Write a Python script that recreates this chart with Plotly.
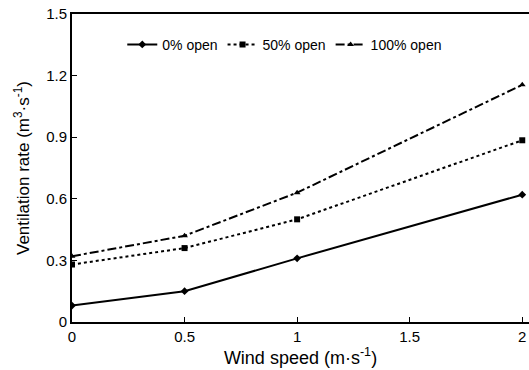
import plotly.graph_objects as go

wind = [0, 0.5, 1, 2]
open0 = [0.08, 0.15, 0.31, 0.62]
open50 = [0.28, 0.36, 0.50, 0.885]
open100 = [0.32, 0.42, 0.63, 1.155]
names = ["0% open", "50% open", "100% open"]

fig = go.Figure()
fig.add_trace(go.Scatter(x=wind, y=open0, name=names[0], mode="lines+markers",
                         line=dict(color="black", width=2, dash="solid"),
                         marker=dict(symbol="diamond", size=6, color="black")))
fig.add_trace(go.Scatter(x=wind, y=open50, name=names[1], mode="lines+markers",
                         line=dict(color="black", width=2, dash="dot"),
                         marker=dict(symbol="square", size=6, color="black")))
fig.add_trace(go.Scatter(x=wind, y=open100, name=names[2], mode="lines+markers",
                         line=dict(color="black", width=2, dash="dashdot"),
                         marker=dict(symbol="triangle-up", size=6, color="black")))

font = "Liberation Sans, Arial, sans-serif"
fig.update_layout(
    width=529, height=370,
    margin=dict(l=72, r=0, t=14, b=48),
    paper_bgcolor="white", plot_bgcolor="white",
    font=dict(family=font, size=15, color="black"),
    showlegend=True,
    legend=dict(orientation="h", x=0.11, y=0.9, xanchor="left", yanchor="middle",
                font=dict(size=14), bgcolor="rgba(0,0,0,0)",
                itemwidth=30, tracegroupgap=0),
    xaxis=dict(range=[0, 2.03], tickvals=[0, 0.5, 1, 1.5, 2],
               ticktext=["0", "0.5", "1", "1.5", "2"],
               showgrid=False, zeroline=False, showline=True, linecolor="black",
               linewidth=2, mirror=True, ticks="inside", ticklen=5, tickcolor="black",
               title=dict(text="Wind speed (m·s<sup>-1</sup>)", font=dict(size=18), standoff=2)),
    yaxis=dict(range=[0, 1.5], tickvals=[0, 0.3, 0.6, 0.9, 1.2, 1.5],
               ticktext=["0", "0.3", "0.6", "0.9", "1.2", "1.5"],
               showgrid=False, zeroline=False, showline=True, linecolor="black",
               linewidth=2, ticks="inside", ticklen=5, tickcolor="black",
               title=dict(text="Ventilation rate (m<sup>3</sup>·s<sup>-1</sup>)", font=dict(size=17), standoff=12)),
)
fig.write_html("out.html")
